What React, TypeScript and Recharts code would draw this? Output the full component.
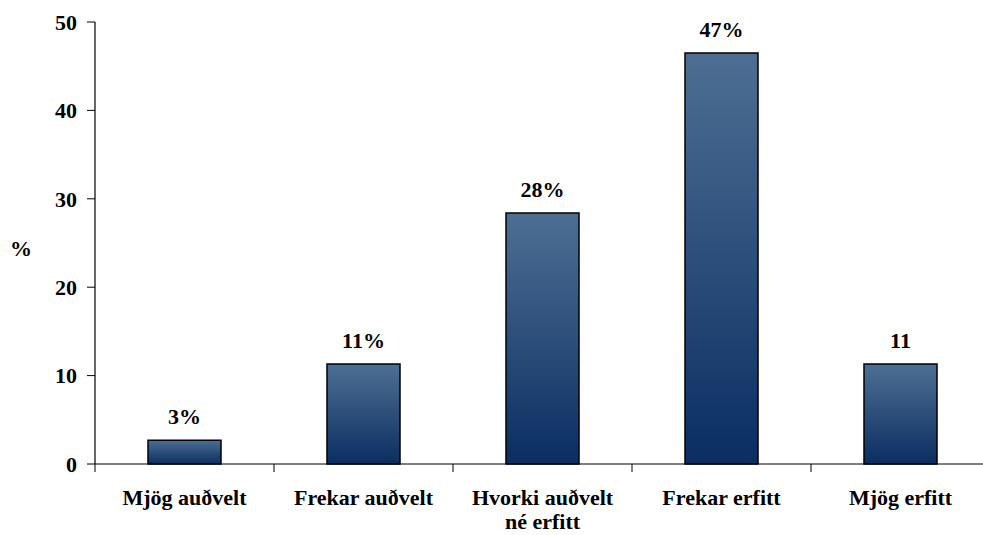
import { BarChart, Bar, XAxis, YAxis, LabelList } from 'recharts'

const categories = ['Mjög auðvelt', 'Frekar auðvelt', 'Hvorki auðvelt\nné erfitt', 'Frekar erfitt', 'Mjög erfitt']
const values = [2.7, 11.3, 28.4, 46.5, 11.3]
const barLabels = ['3%', '11%', '28%', '47%', '11']
const yTicks = [0, 10, 20, 30, 40, 50]

const data = categories.map((name, i) => ({ name, value: values[i], label: barLabels[i] }))

const FONT = '"Liberation Serif", "Times New Roman", serif'

// category label, plus the tick mark on the band's left edge (Excel style)
function CategoryTick(props: { x?: number; y?: number; payload?: { value: string; offset?: number } }) {
  const { x = 0, y = 0, payload } = props
  const lines = (payload?.value ?? '').split('\n')
  const half = payload?.offset ?? 0
  return (
    <g transform={`translate(${x},${y})`}>
      <line x1={-half} x2={-half} y1={-8} y2={0} stroke="#000" strokeWidth={1} />
      {lines.map((line, i) => (
        <text
          key={i}
          x={0}
          y={33 + i * 24}
          textAnchor="middle"
          fontFamily={FONT}
          fontWeight="bold"
          fontSize={22}
          fill="#000"
        >
          {line}
        </text>
      ))}
    </g>
  )
}

export default function App() {
  return (
    <div style={{ position: 'absolute', left: 0, top: 0, width: 983, height: 535, overflow: 'hidden', background: '#fff' }}>
      <BarChart
        width={1000}
        height={535}
        data={data}
        margin={{ top: 22, right: 10, bottom: 0, left: 0 }}
      >
        <defs>
          <linearGradient id="barGrad" x1="0" y1="0" x2="0" y2="1">
            <stop offset="0%" stopColor="#4e6f93" />
            <stop offset="100%" stopColor="#0a2e62" />
          </linearGradient>
        </defs>
        <XAxis
          dataKey="name"
          axisLine={{ stroke: '#000', strokeWidth: 1.2 }}
          tickLine={false}
          tickSize={8}
          tickMargin={0}
          tick={<CategoryTick />}
          interval={0}
          height={71}
        />
        <YAxis
          domain={[0, 50]}
          ticks={yTicks}
          width={95}
          axisLine={{ stroke: '#000', strokeWidth: 1.2 }}
          tickLine={{ stroke: '#000' }}
          tickSize={8}
          tickMargin={10}
          tick={{ fontFamily: FONT, fontWeight: 'bold', fontSize: 22, fill: '#000' }}
          label={{
            value: '%',
            angle: 0,
            position: 'insideLeft',
            offset: 10,
            dy: 5,
            style: { fontFamily: FONT, fontWeight: 'bold', fontSize: 22, fill: '#000' },
          }}
        />
        <Bar
          dataKey="value"
          barSize={73}
          fill="url(#barGrad)"
          stroke="#000"
          strokeWidth={1.5}
          isAnimationActive={false}
        >
          <LabelList
            dataKey="label"
            position="top"
            offset={16}
            style={{ fontFamily: FONT, fontWeight: 'bold', fontSize: 22, fill: '#000' }}
          />
        </Bar>
      </BarChart>
    </div>
  )
}
